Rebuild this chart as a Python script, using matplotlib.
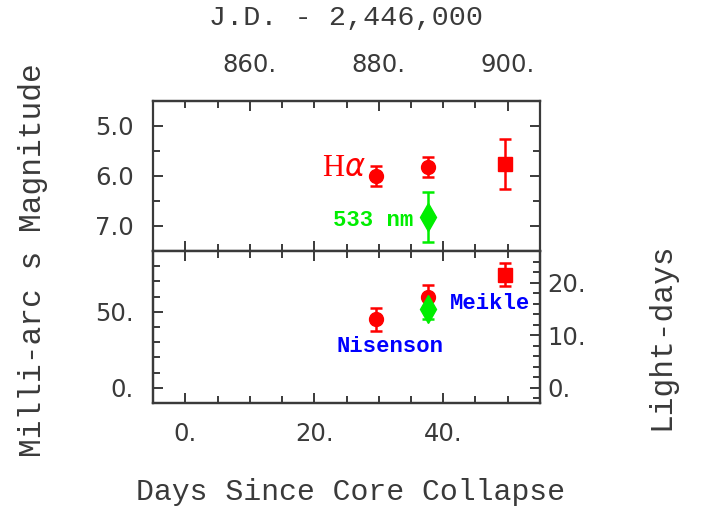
import numpy as np
import matplotlib
matplotlib.use('Agg')
import matplotlib.pyplot as plt
from matplotlib.ticker import MultipleLocator, FormatStrFormatter

# Days since core collapse (JD - 2,446,850)
jd_offset = 850

# Top panel: magnitudes
ha_circ_days = [29.6, 37.6]
ha_circ_mag = [6.0, 5.82]
ha_circ_err = [0.2, 0.2]
ha_sq_days = [49.6]
ha_sq_mag = [5.77]
ha_sq_err = [0.5]
nm533_days = [37.6]
nm533_mag = [6.83]
nm533_err = [0.5]

# Bottom panel: sizes in milli-arcsec
nis_days = [29.6, 37.6]
nis_mas = [45.0, 60.0]
nis_err = [7.5, 7.5]
mei_days = [49.6]
mei_mas = [74.5]
mei_err = [7.5]
grn_days = [37.6]
grn_mas = [52.0]
grn_err = [7.0]

mas_per_lightday = 3.46

ink = '#3a3a3a'
lbl_font = 'Liberation Mono'
tick_font = 'DejaVu Sans'

fig = plt.figure(figsize=(7.01, 5.09), dpi=100)
ax1 = fig.add_axes([0.2183, 0.5069, 0.552, 0.2947])
ax2 = fig.add_axes([0.2183, 0.2083, 0.552, 0.2986])

eb = dict(capsize=4.5, elinewidth=1.8, capthick=1.8, linestyle='none')

# top panel
ax1.errorbar(ha_circ_days, ha_circ_mag, yerr=ha_circ_err, marker='o', ms=10, color='#ff0000', **eb)
ax1.errorbar(ha_sq_days, ha_sq_mag, yerr=ha_sq_err, marker='s', ms=9.5, color='#ff0000', **eb)
ax1.errorbar(nm533_days, nm533_mag, yerr=nm533_err, marker='d', ms=14, color='#00ee00', **eb)
ax1.set_xlim(-5, 55)
ax1.set_ylim(7.5, 4.5)
ax1.text(28.0, 6.0, r'H$\alpha$', color='#ff0000', fontsize=22, family='Liberation Serif',
         ha='right', va='baseline')
ax1.text(35.4, 7.0, '533 nm', color='#00ee00', fontsize=16, family=lbl_font,
         fontweight='bold', ha='right', va='baseline')

# bottom panel
ax2.errorbar(nis_days, nis_mas, yerr=nis_err, marker='o', ms=10, color='#ff0000', **eb)
ax2.errorbar(mei_days, mei_mas, yerr=mei_err, marker='s', ms=9.5, color='#ff0000', **eb)
ax2.errorbar(grn_days, grn_mas, yerr=grn_err, marker='d', ms=14, color='#00ee00', **eb)
ax2.set_xlim(-5, 55)
ax2.set_ylim(-10, 90)
ax2.text(31.7, 23.5, 'Nisenson', color='#0000ff', fontsize=16, family=lbl_font,
         fontweight='bold', ha='center', va='baseline')
ax2.text(47.3, 52.0, 'Meikle', color='#0000ff', fontsize=16, family=lbl_font,
         fontweight='bold', ha='center', va='baseline')

ax3 = ax2.twinx()
ax3.set_ylim(-10 / mas_per_lightday, 90 / mas_per_lightday)

# JD axis on top
sec = ax1.secondary_xaxis('top', functions=(lambda d: d + jd_offset, lambda j: j - jd_offset))

for ax in (ax1, ax2, ax3):
    for s in ax.spines.values():
        s.set_linewidth(1.6)
        s.set_color(ink)

ax1.xaxis.set_major_locator(MultipleLocator(20))
ax1.xaxis.set_minor_locator(MultipleLocator(5))
ax1.yaxis.set_major_locator(MultipleLocator(1.0))
ax1.yaxis.set_minor_locator(MultipleLocator(0.5))
ax1.yaxis.set_major_formatter(FormatStrFormatter('%.1f'))
ax1.tick_params(which='both', direction='in', color=ink, width=1.4,
                bottom=True, top=False, left=True, right=True, labelbottom=False)
ax1.tick_params(which='major', length=7)
ax1.tick_params(which='minor', length=5)

sec.xaxis.set_major_locator(MultipleLocator(20))
sec.xaxis.set_minor_locator(MultipleLocator(5))
sec.xaxis.set_major_formatter(FormatStrFormatter('%d.'))
sec.tick_params(which='both', direction='in', color=ink, width=1.4, pad=17)
sec.tick_params(which='major', length=7)
sec.tick_params(which='minor', length=5)
sec.spines['top'].set_linewidth(1.6)
sec.spines['top'].set_color(ink)

ax2.xaxis.set_major_locator(MultipleLocator(20))
ax2.xaxis.set_minor_locator(MultipleLocator(5))
ax2.xaxis.set_major_formatter(FormatStrFormatter('%d.'))
ax2.yaxis.set_major_locator(MultipleLocator(50))
ax2.yaxis.set_minor_locator(MultipleLocator(10))
ax2.yaxis.set_major_formatter(FormatStrFormatter('%d.'))
ax2.tick_params(which='both', direction='in', color=ink, width=1.4,
                bottom=True, top=True, left=True, right=False)
ax2.tick_params(which='major', length=7)
ax2.tick_params(which='minor', length=5)
ax2.tick_params(axis='x', pad=14)
ax2.tick_params(axis='y', pad=14)

ax3.yaxis.set_major_locator(MultipleLocator(10))
ax3.yaxis.set_minor_locator(MultipleLocator(2))
ax3.yaxis.set_major_formatter(FormatStrFormatter('%d.'))
ax3.tick_params(which='both', direction='in', color=ink, width=1.4, pad=5)
ax3.tick_params(which='major', length=7)
ax3.tick_params(which='minor', length=5)

ax1.tick_params(axis='y', pad=14)

for ax in (ax1, ax2, ax3, sec):
    for lab in ax.get_xticklabels() + ax.get_yticklabels():
        lab.set_fontsize(17.5)
        lab.set_family(tick_font)
        lab.set_color(ink)

# axis labels
fig.text(0.4936, 0.965, 'J.D. - 2,446,000', fontsize=20.5, family=lbl_font, color=ink,
         ha='center', va='center')
fig.text(0.4993, 0.033, 'Days Since Core Collapse', fontsize=21.5, family=lbl_font, color=ink,
         ha='center', va='center')
fig.text(0.047, 0.489, 'Milli-arc s Magnitude', fontsize=22.5, family=lbl_font, color=ink,
         ha='center', va='center', rotation=90)
fig.text(0.944, 0.34, 'Light-days', fontsize=22.5, family=lbl_font, color=ink,
         ha='center', va='center', rotation=90)

fig.savefig('out.png', dpi=100)
